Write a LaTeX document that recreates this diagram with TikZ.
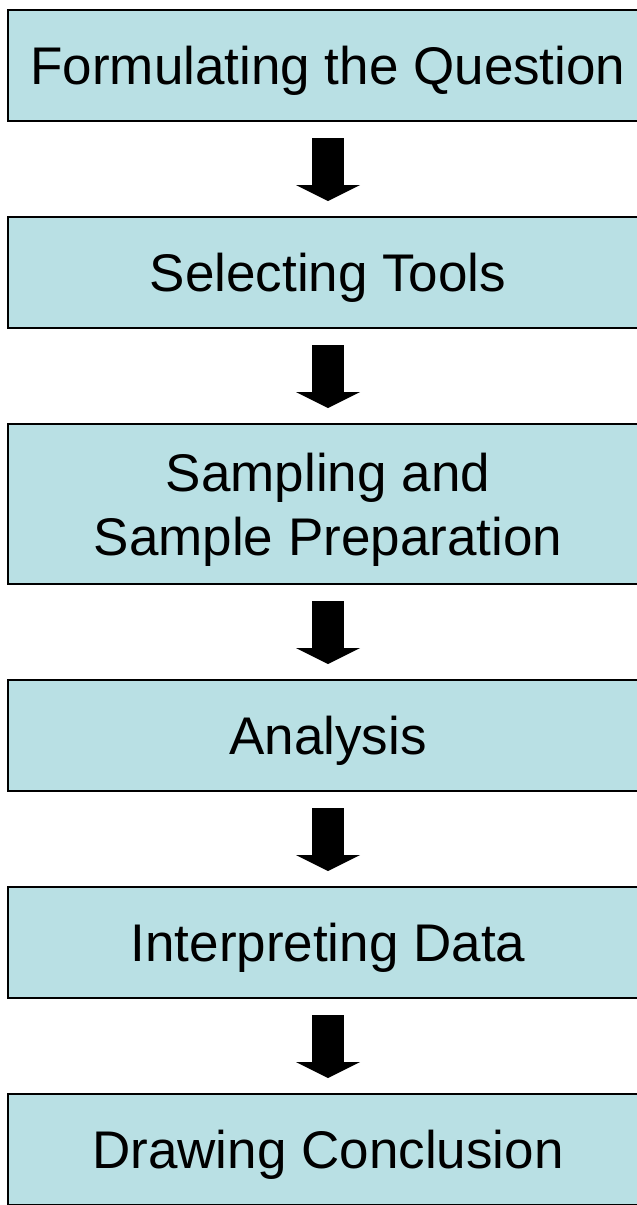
\documentclass[tikz,border=0pt]{standalone}
\usepackage{fontspec}
\setmainfont{Liberation Sans}
\usetikzlibrary{arrows.meta, positioning}
\definecolor{stepfill}{RGB}{185,224,228}

\begin{document}
\begin{tikzpicture}[
  x=1pt, y=-1pt,
  font=\fontsize{53pt}{64pt}\selectfont,
  node distance=96pt,
  stage/.style={draw, line width=2pt, fill=stepfill, outer sep=0pt, inner sep=0pt,
                minimum width=640pt, minimum height=111pt, align=center, text depth=0pt},
  tall/.style={minimum height=160pt},
  blockarr/.style={line width=32pt, shorten <=17pt, shorten >=16pt,
                   -{Triangle[width=64pt, length=16pt, line width=0pt]}}
]
\useasboundingbox (0,0) rectangle (637,1205);

\node[stage] (q) at (328,65.5) {Formulating the Question};
\node[stage, below=of q] (tools) {Selecting Tools};
\node[stage, tall, below=of tools] (samp) {Sampling and\\Sample Preparation};
\node[stage, below=of samp] (ana) {Analysis};
\node[stage, below=of ana] (interp) {Interpreting Data};
\node[stage, below=of interp] (concl) {Drawing Conclusion};

\draw[blockarr] (q) -- (tools);
\draw[blockarr] (tools) -- (samp);
\draw[blockarr] (samp) -- (ana);
\draw[blockarr] (ana) -- (interp);
\draw[blockarr] (interp) -- (concl);
\end{tikzpicture}
\end{document}
